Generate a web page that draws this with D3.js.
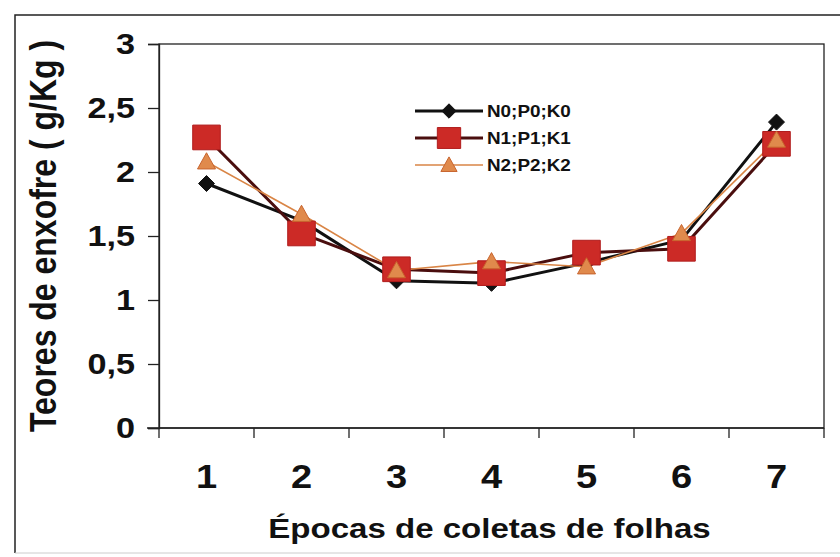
<!DOCTYPE html>
<html>
<head>
<meta charset="utf-8">
<script src="https://cdn.jsdelivr.net/npm/d3@7"></script>
<style>
  body { margin: 0; background: #fff; }
  svg { display: block; font-family: "Liberation Sans", Arial, sans-serif; }
</style>
</head>
<body>
<div id="chart"></div>
<script>
// Sulfur content in leaves per sampling epoch
const epochs = ["1", "2", "3", "4", "5", "6", "7"];
const seriesNames = ["N0;P0;K0", "N1;P1;K1", "N2;P2;K2"];
const n0 = [1.91, 1.62, 1.15, 1.13, 1.29, 1.47, 2.39];
const n1 = [2.27, 1.52, 1.24, 1.21, 1.37, 1.40, 2.22];
const n2 = [2.08, 1.67, 1.23, 1.30, 1.26, 1.52, 2.25];
const yTicks = [0, 0.5, 1, 1.5, 2, 2.5, 3];

const width = 840, height = 557;
const plot = { left: 159, right: 824, top: 44, bottom: 428 };
const stretch = 1.18; // the scanned original is a bit wider than tall

const svg = d3.select("#chart").append("svg")
  .attr("width", width)
  .attr("height", height);

// outer frame (scanned page border)
svg.append("path")
  .attr("d", `M15,553 L15,15 L${width + 5},15`)
  .attr("fill", "none")
  .attr("stroke", "#222")
  .attr("stroke-width", 1.5);
svg.append("line")
  .attr("x1", 15).attr("x2", width).attr("y1", 553).attr("y2", 553)
  .attr("stroke", "#ccc").attr("stroke-width", 1);

const x = d3.scaleBand()
  .domain(epochs)
  .range([plot.left, plot.right]);

const y = d3.scaleLinear()
  .domain([0, 3])
  .range([plot.bottom, plot.top]);

// plot area border
svg.append("rect")
  .attr("x", plot.left).attr("y", plot.top)
  .attr("width", plot.right - plot.left)
  .attr("height", plot.bottom - plot.top)
  .attr("fill", "none")
  .attr("stroke", "#222")
  .attr("stroke-width", 1.3);

// y axis
const fmt = d => String(d).replace(".", ",");
const yAxis = svg.append("g")
  .attr("transform", `translate(${plot.left},0)`)
  .call(d3.axisLeft(y).tickValues(yTicks).tickFormat(fmt).tickSize(11));
yAxis.select(".domain").attr("stroke", "#222").attr("stroke-width", 1.3);
yAxis.selectAll(".tick line").attr("stroke", "#222").attr("stroke-width", 1.3);
yAxis.selectAll("text")
  .attr("x", 0)
  .attr("transform", `translate(-24,0) scale(${stretch},1)`)
  .attr("font-size", 29)
  .attr("font-weight", "bold")
  .attr("fill", "#111")
  .attr("font-family", "Liberation Sans, Arial, sans-serif");

// x axis: ticks on band boundaries, labels at band centres
const xAxisG = svg.append("g").attr("transform", `translate(0,${plot.bottom})`);
xAxisG.append("line")
  .attr("x1", plot.left - 12).attr("x2", plot.right)
  .attr("stroke", "#222").attr("stroke-width", 1.3);
const bounds = epochs.map(e => x(e)).concat([x(epochs[epochs.length - 1]) + x.bandwidth()]);
xAxisG.selectAll(".btick").data(bounds).join("line")
  .attr("x1", d => d).attr("x2", d => d)
  .attr("y1", 0).attr("y2", 10)
  .attr("stroke", "#222").attr("stroke-width", 1.3);
xAxisG.selectAll(".xlab").data(epochs).join("text")
  .attr("transform", d => `translate(${x(d) + x.bandwidth() / 2},60) scale(1.12,1)`)
  .attr("text-anchor", "middle")
  .attr("font-size", 34)
  .attr("font-weight", "bold")
  .attr("fill", "#111")
  .text(d => d);

// axis titles
svg.append("text")
  .attr("transform", `translate(${(plot.left + plot.right) / 2 - 2},538) scale(${stretch},1)`)
  .attr("text-anchor", "middle")
  .attr("font-size", 28)
  .attr("font-weight", "bold")
  .attr("fill", "#111")
  .text("Épocas de coletas de folhas");

svg.append("text")
  .attr("transform", `translate(56,236) scale(${stretch},1) rotate(-90)`)
  .attr("text-anchor", "middle")
  .attr("font-size", 32)
  .attr("font-weight", "bold")
  .attr("fill", "#111")
  .text("Teores de enxofre ( g/Kg )");

// series styling
const styles = [
  { values: n0, line: "#111", width: 3, marker: "diamond", fill: "#111", stroke: "#111", size: 16 },
  { values: n1, line: "#4a0e0e", width: 3, marker: "square", fill: "#cc2a26", stroke: "#b01c1c", size: 26 },
  { values: n2, line: "#d98546", width: 1.6, marker: "triangle", fill: "#e08a4c", stroke: "#c8642e", size: 18 }
];

const cx = i => x(epochs[i]) + x.bandwidth() / 2;
const line = d3.line().x((d, i) => cx(i)).y(d => y(d));

function markerPath(type, s) {
  const h = s / 2;
  if (type === "diamond") return `M0,${-h}L${h},0L0,${h}L${-h},0Z`;
  if (type === "square") return `M${-h * 1.06},${-h * 0.95}H${h * 1.06}V${h * 0.95}H${-h * 1.06}Z`;
  return `M0,${-h}L${h},${h * 0.8}L${-h},${h * 0.8}Z`;
}

// lines first, then markers
styles.forEach(s => {
  svg.append("path")
    .datum(s.values)
    .attr("d", line)
    .attr("fill", "none")
    .attr("stroke", s.line)
    .attr("stroke-width", s.width)
    .attr("stroke-linejoin", "round");
});

styles.forEach(s => {
  svg.append("g").selectAll("path").data(s.values).join("path")
    .attr("transform", (d, i) => `translate(${cx(i)},${y(d)})`)
    .attr("d", markerPath(s.marker, s.size))
    .attr("fill", s.fill)
    .attr("stroke", s.stroke)
    .attr("stroke-width", 1);
});

// legend
const legend = svg.append("g").attr("transform", "translate(415,111)");
seriesNames.forEach((name, k) => {
  const s = styles[k];
  const g = legend.append("g").attr("transform", `translate(0,${k * 27})`);
  g.append("line")
    .attr("x1", 0).attr("x2", 68)
    .attr("stroke", s.line).attr("stroke-width", s.width);
  g.append("path")
    .attr("transform", "translate(34,0)")
    .attr("d", markerPath(s.marker, k === 1 ? 22 : s.size * 0.9))
    .attr("fill", s.fill)
    .attr("stroke", s.stroke)
    .attr("stroke-width", 1);
  g.append("text")
    .attr("transform", `translate(72,6) scale(${stretch},1)`)
    .attr("font-size", 16)
    .attr("font-weight", "bold")
    .attr("fill", "#111")
    .text(name);
});
</script>
</body>
</html>
